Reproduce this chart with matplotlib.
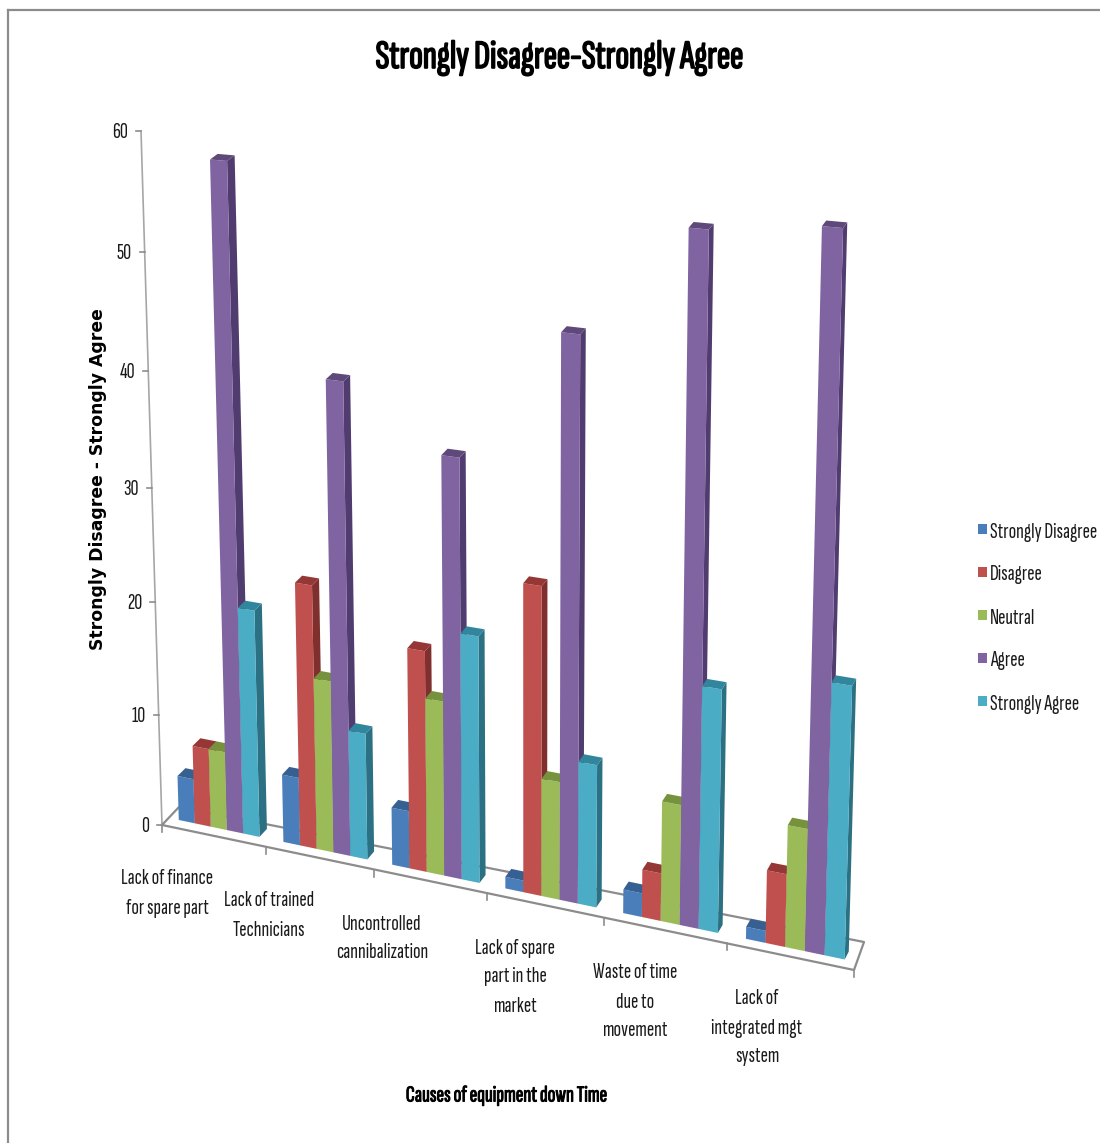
import matplotlib
matplotlib.use('Agg')
import matplotlib.pyplot as plt
import matplotlib.patheffects as pe
from matplotlib.patches import Polygon
import numpy as np

plt.rcParams['font.family'] = ['Sofia Sans Extra Condensed', 'Fira Sans Extra Condensed', 'Roboto Condensed', 'Liberation Sans', 'DejaVu Sans']

categories = ['Lack of finance\nfor spare part', 'Lack of trained\nTechnicians',
              'Uncontrolled\ncannibalization', 'Lack of spare\npart in the\nmarket',
              'Waste of time\ndue to\nmovement', 'Lack of\nintegrated mgt\nsystem']
series_names = ['Strongly Disagree', 'Disagree', 'Neutral', 'Agree', 'Strongly Agree']
strongly_disagree = [4, 6, 5, 1, 2, 1]
disagree = [7, 23, 19, 26, 4, 6]
neutral = [7, 15, 15, 10, 10, 10]
agree = [57.5, 40.5, 35.5, 46.5, 55.5, 56.5]
strongly_agree = [20, 11, 21, 12, 20, 22]
y_ticks = [0, 10, 20, 30, 40, 50, 60]

front_colors = ['#4a7ebb', '#c0504d', '#9bbb59', '#8064a2', '#4aacc5']
top_colors = ['#376092', '#953735', '#76923c', '#5f497a', '#31859c']
side_colors = ['#2f5682', '#7f2f2d', '#64803a', '#513c70', '#2c7083']

N_CAT = len(categories)
V_MAX = y_ticks[-1]
GAP = 0.115
BAR_W = 0.155


# homography from (category position, value) to pixels on the plane of the bar fronts
def fit_homography(src, dst):
    rows, rhs = [], []
    for (u, v), (x, y) in zip(src, dst):
        rows.append([u, v, 1, 0, 0, 0, -u * x, -v * x])
        rows.append([0, 0, 0, u, v, 1, -u * y, -v * y])
        rhs += [x, y]
    return np.append(np.linalg.solve(np.array(rows, float), np.array(rhs, float)), 1).reshape(3, 3)


H = fit_homography([(0, 0), (N_CAT, 0), (0, V_MAX), (N_CAT, V_MAX)],
                   [(167, 817.5), (859, 962.5), (146, 123.5), (881, 183)])


def project(u, v):
    p = H @ np.array([u, v, 1.0])
    return np.array([p[0] / p[2], p[1] / p[2]])


def depth(u, v):
    # offset of the back of a bar from its front
    return np.array([8 - 4 * u / N_CAT, -8 + 2.5 * v / V_MAX])


def floor_front(u):
    return project(u, 0) + np.array([-5, 7.5])


def floor_back(u):
    return project(u, 0) + np.array([12 - 7 * u / N_CAT, -10.5 - 10 * u / N_CAT])


def draw_bar(ax, u, value, i):
    u2 = u + BAR_W
    a, b = project(u, 0), project(u2, 0)
    c, d = project(u2, value), project(u, value)
    db, dt = depth(u2, 0), depth(u2, value)
    side = [b, b + db, c + dt, c]
    top = [d, c, c + dt, d + depth(u, value)]
    ax.add_patch(Polygon(side, fc=side_colors[i], ec='none', zorder=3))
    ax.add_patch(Polygon([a, b, c, d], fc=front_colors[i], ec='none', zorder=3))
    ax.add_patch(Polygon(top, fc=top_colors[i], ec='none', zorder=3))


fig = plt.figure(figsize=(11, 11.43), dpi=100)
ax = fig.add_axes([0, 0, 1, 1])
ax.set_xlim(0, 1100)
ax.set_ylim(1143, 0)
ax.axis('off')

# chart border
ax.plot([8, 8], [1143, 10], color='#8c8c8c', lw=1.6, zorder=1)
ax.plot([8, 1100], [10, 10], color='#8c8c8c', lw=1.6, zorder=1)

# walls and floor
axis_pts = np.array([project(0, v) + np.array([-5, 7.5]) for v in y_ticks])
ax.plot(axis_pts[:, 0], axis_pts[:, 1], color='#a6a6a6', lw=1.2, zorder=1)
for v, p in zip(y_ticks, axis_pts):
    ax.plot([p[0] - 5, p[0]], [p[1], p[1]], color='#8c8c8c', lw=1.2, zorder=1)
    ax.text(p[0] - 13, p[1] + 1.5, str(v), ha='right', va='center', fontsize=16, color='#1a1a1a')

floor = np.array([floor_front(0), floor_front(N_CAT), floor_back(N_CAT), floor_back(0), floor_front(0)])
ax.plot(floor[:, 0], floor[:, 1], color='#8c8c8c', lw=1.6, zorder=1)
for k in range(N_CAT + 1):
    p = floor_front(k)
    ax.plot([p[0], p[0]], [p[1], p[1] + 7], color='#8c8c8c', lw=1.2, zorder=1)

# bars
series = [strongly_disagree, disagree, neutral, agree, strongly_agree]
for k in range(N_CAT):
    for i, vals in enumerate(series):
        draw_bar(ax, k + GAP + i * BAR_W, vals[k], i)

# category labels
label_x = [167, 269, 382, 515, 635, 757]
label_y = [879, 901, 924, 948, 973, 999]
for name, x, y in zip(categories, label_x, label_y):
    for j, line in enumerate(name.split('\n')):
        ax.text(x, y + j * 29, line, ha='center', va='center', fontsize=16, color='#1a1a1a')

# the condensed font has no bold face here, so thicken it with a stroke
ax.text(559, 58, 'Strongly Disagree-Strongly Agree', ha='center', va='center',
        fontsize=29, color='black', path_effects=[pe.withStroke(linewidth=1.2, foreground='black')])
ax.text(506, 1096, 'Causes of equipment down Time', ha='center', va='center',
        fontsize=16.5, color='black', path_effects=[pe.withStroke(linewidth=0.7, foreground='black')])
ax.text(98, 479, 'Strongly Disagree - Strongly Agree', ha='center', va='center', rotation=90,
        fontsize=12.4, fontweight='bold', color='black', family='DejaVu Sans')

# legend
legend_y = [531, 574, 617, 660, 703]
for name, y, col in zip(series_names, legend_y, front_colors):
    ax.add_patch(Polygon([(978, y - 7), (987, y - 7), (987, y + 3), (978, y + 3)], fc=col, ec='none'))
    ax.text(990, y + 1, name, ha='left', va='center', fontsize=16, color='#1a1a1a')

fig.savefig('out.png', dpi=100)
